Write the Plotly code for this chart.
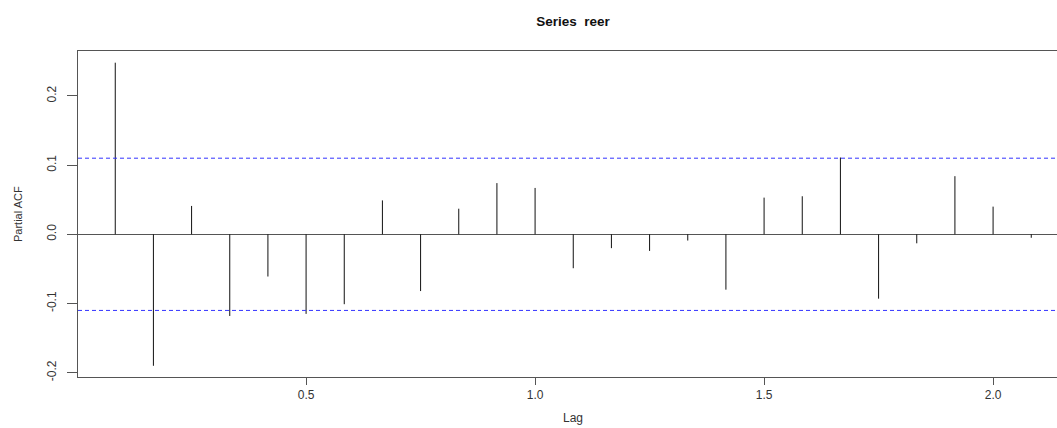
import plotly.graph_objects as go

# PACF of series "reer" (monthly data, lag in years)
lags = [k / 12 for k in range(1, 26)]
pacf = [0.248, -0.190, 0.041, -0.118, -0.061, -0.115, -0.101, 0.049, -0.082, 0.037,
        0.074, 0.067, -0.049, -0.020, -0.024, -0.009, -0.080, 0.053, 0.055, 0.111,
        -0.093, -0.013, 0.084, 0.040, -0.005]
clim = 0.110
y_tickvals = [-0.2, -0.1, 0.0, 0.1, 0.2]
y_ticktext = ["-0.2", "-0.1", "0.0", "0.1", "0.2"]
x_tickvals = [0.5, 1.0, 1.5, 2.0]
x_ticktext = ["0.5", "1.0", "1.5", "2.0"]

xs, ys = [], []
for lag, v in zip(lags, pacf):
    xs += [lag, lag, None]
    ys += [0, v, None]

FONT = "Liberation Sans, Arial, sans-serif"
AX = "#555555"

fig = go.Figure()
fig.add_trace(go.Scatter(x=xs, y=ys, mode="lines",
                         line=dict(color="#111111", width=1),
                         hoverinfo="skip", showlegend=False))

for c in (clim, -clim):
    fig.add_shape(type="line", xref="paper", x0=0, x1=1, yref="y", y0=c, y1=c,
                  line=dict(color="#3333ff", width=1, dash="4px,3px"))

fig.update_layout(
    width=1057, height=428,
    margin=dict(l=78, r=0, t=51, b=51),
    paper_bgcolor="white", plot_bgcolor="white",
    font=dict(family=FONT, color="#333333", size=12),
    title=dict(text="<b>Series\u00a0\u00a0reer</b>", x=0.5056, xref="paper",
               xanchor="center", y=1 - 20.8 / 428, yanchor="middle",
               font=dict(family=FONT, size=13.5, color="#111111")),
    xaxis=dict(range=[0.002, 0.002 + 979 / 458], showgrid=False, zeroline=False,
               showline=True, mirror=True, linecolor=AX, linewidth=1,
               ticks="outside", ticklen=7, tickcolor=AX, tickwidth=1,
               tickvals=x_tickvals, ticktext=x_ticktext,
               tickfont=dict(size=12, color="#333333")),
    yaxis=dict(range=[-0.2062, 0.2649], showgrid=False,
               zeroline=True, zerolinecolor="#555555", zerolinewidth=1,
               showline=True, mirror=False, linecolor=AX, linewidth=1,
               ticks="outside", ticklen=10, tickcolor=AX, tickwidth=1,
               tickvals=y_tickvals, ticktext=y_ticktext, tickangle=-90,
               ticklabelstandoff=6,
               tickfont=dict(size=12, color="#333333")),
    annotations=[
        dict(text="Partial ACF", xref="paper", yref="paper", x=(18 - 78) / 979, y=0.5,
             xanchor="center", yanchor="middle", textangle=-90, showarrow=False,
             font=dict(size=11, color="#333333")),
        dict(text="Lag", xref="paper", yref="paper", x=(573 - 78) / 979,
             y=(377 - 418) / 326, xanchor="center", yanchor="middle",
             showarrow=False, font=dict(size=12, color="#333333")),
    ],
)

fig.write_html("out.html")
